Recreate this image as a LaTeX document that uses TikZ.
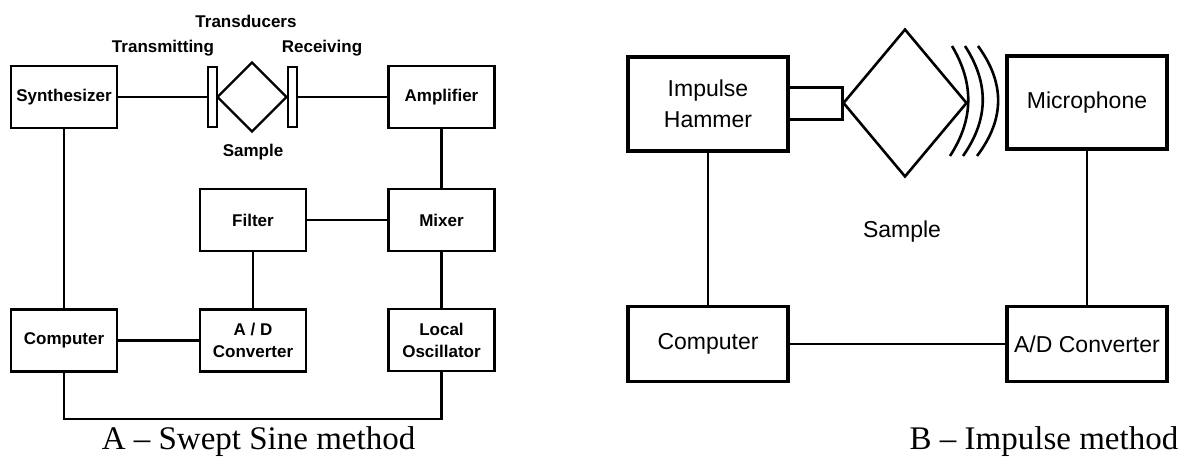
\documentclass[tikz,border=0pt]{standalone}
\usepackage{fontspec}
\setmainfont{Liberation Serif}
\newfontfamily\lsans{Liberation Sans}
\usetikzlibrary{shapes.geometric}
\begin{document}
\begin{tikzpicture}[x=1pt,y=-1pt,
 abox/.style={draw, line width=2.2pt, minimum width=106pt, minimum height=62pt, inner sep=0pt, align=center, font=\lsans\bfseries\fontsize{17}{22}\selectfont},
 aline/.style={line width=2.2pt},
 bbox/.style={draw, line width=3.3pt, minimum width=160pt, inner sep=0pt, align=center, font=\lsans\fontsize{23}{31}\selectfont},
 bline/.style={line width=2.6pt},
 lbl/.style={font=\lsans\bfseries\fontsize{17}{20}\selectfont, inner sep=0pt, anchor=base},
 captext/.style={font=\fontsize{33}{40}\selectfont, inner sep=0pt, anchor=base}]
\useasboundingbox (0,0) rectangle (1191,457);
% ---- A: swept sine ----
\node[abox] (syn) at (64,97) {Synthesizer};
\node[abox] (amp) at (441.5,97) {Amplifier};
\node[abox] (mix) at (441.5,220) {Mixer};
\node[abox] (fil) at (253,220) {Filter};
\node[abox] (comp) at (64,340.5) {Computer};
\node[abox] (adc) at (253,340.5) {A / D\\Converter};
\node[abox] (lo) at (441.5,340) {Local\\Oscillator};
\node[draw, line width=2.2pt, minimum width=9pt, minimum height=60pt, inner sep=0pt] (tl) at (212.5,97) {};
\node[draw, line width=2.2pt, minimum width=9pt, minimum height=60pt, inner sep=0pt] (tr) at (292.5,97) {};
\node[diamond, draw, line width=2.2pt, minimum width=70pt, minimum height=70pt, inner sep=0pt] (samp) at (252,97) {};
\draw[aline] (syn.east) -- (tl.west);
\draw[aline] (tr.east) -- (amp.west);
\draw[aline] (syn.south) -- (comp.north);
\draw[aline] (amp.south) -- (mix.north);
\draw[aline] (fil.east) -- (mix.west);
\draw[aline] (fil.south) -- (adc.north);
\draw[aline] (comp.east) -- (adc.west);
\draw[aline] (mix.south) -- (lo.north);
\draw[aline] (comp.south) -- ++(0,46) -| (lo.south);
\node[lbl] (ltrd) at (246,28) {Transducers};
\node[lbl] (ltx) at (163,53) {Transmitting};
\node[lbl] (lrx) at (322,53) {Receiving};
\node[lbl] (lsa) at (253,157) {Sample};
\node[captext] (capa) at (258.5,449) {A -- Swept Sine method};
% ---- B: impulse ----
\node[bbox, minimum height=94pt] (ham) at (708,104) {Impulse\\Hammer};
\node[draw, line width=3pt, minimum width=54pt, minimum height=32pt, inner sep=0pt] (head) at (815,104) {};
\node[diamond, draw, line width=2.6pt, minimum width=124pt, minimum height=148pt, inner sep=0pt] (bsam) at (905,103) {};
\draw[bline] (952,46) .. controls (974,83) and (974,119) .. (950,156);
\draw[bline] (965,46) .. controls (989,83) and (989,119) .. (963,156);
\draw[bline] (978,46) .. controls (1005,83) and (1005,119) .. (977,156);
\node[bbox, minimum height=93pt] (mic) at (1087,102.5) {Microphone};
\node[bbox, minimum height=75pt] (bcomp) at (708,344) {Computer};
\node[bbox, minimum height=75pt] (badc) at (1087,344) {A/D Converter};
\draw[bline] (ham.south) -- (bcomp.north);
\draw[bline] (mic.south) -- (badc.north);
\draw[bline] (bcomp.east) -- (badc.west);
\node[font=\lsans\fontsize{23}{28}\selectfont, inner sep=0pt, anchor=base] (bsl) at (902,237) {Sample};
\node[captext] (capb) at (1044,449) {B -- Impulse method};
\end{tikzpicture}
\end{document}
